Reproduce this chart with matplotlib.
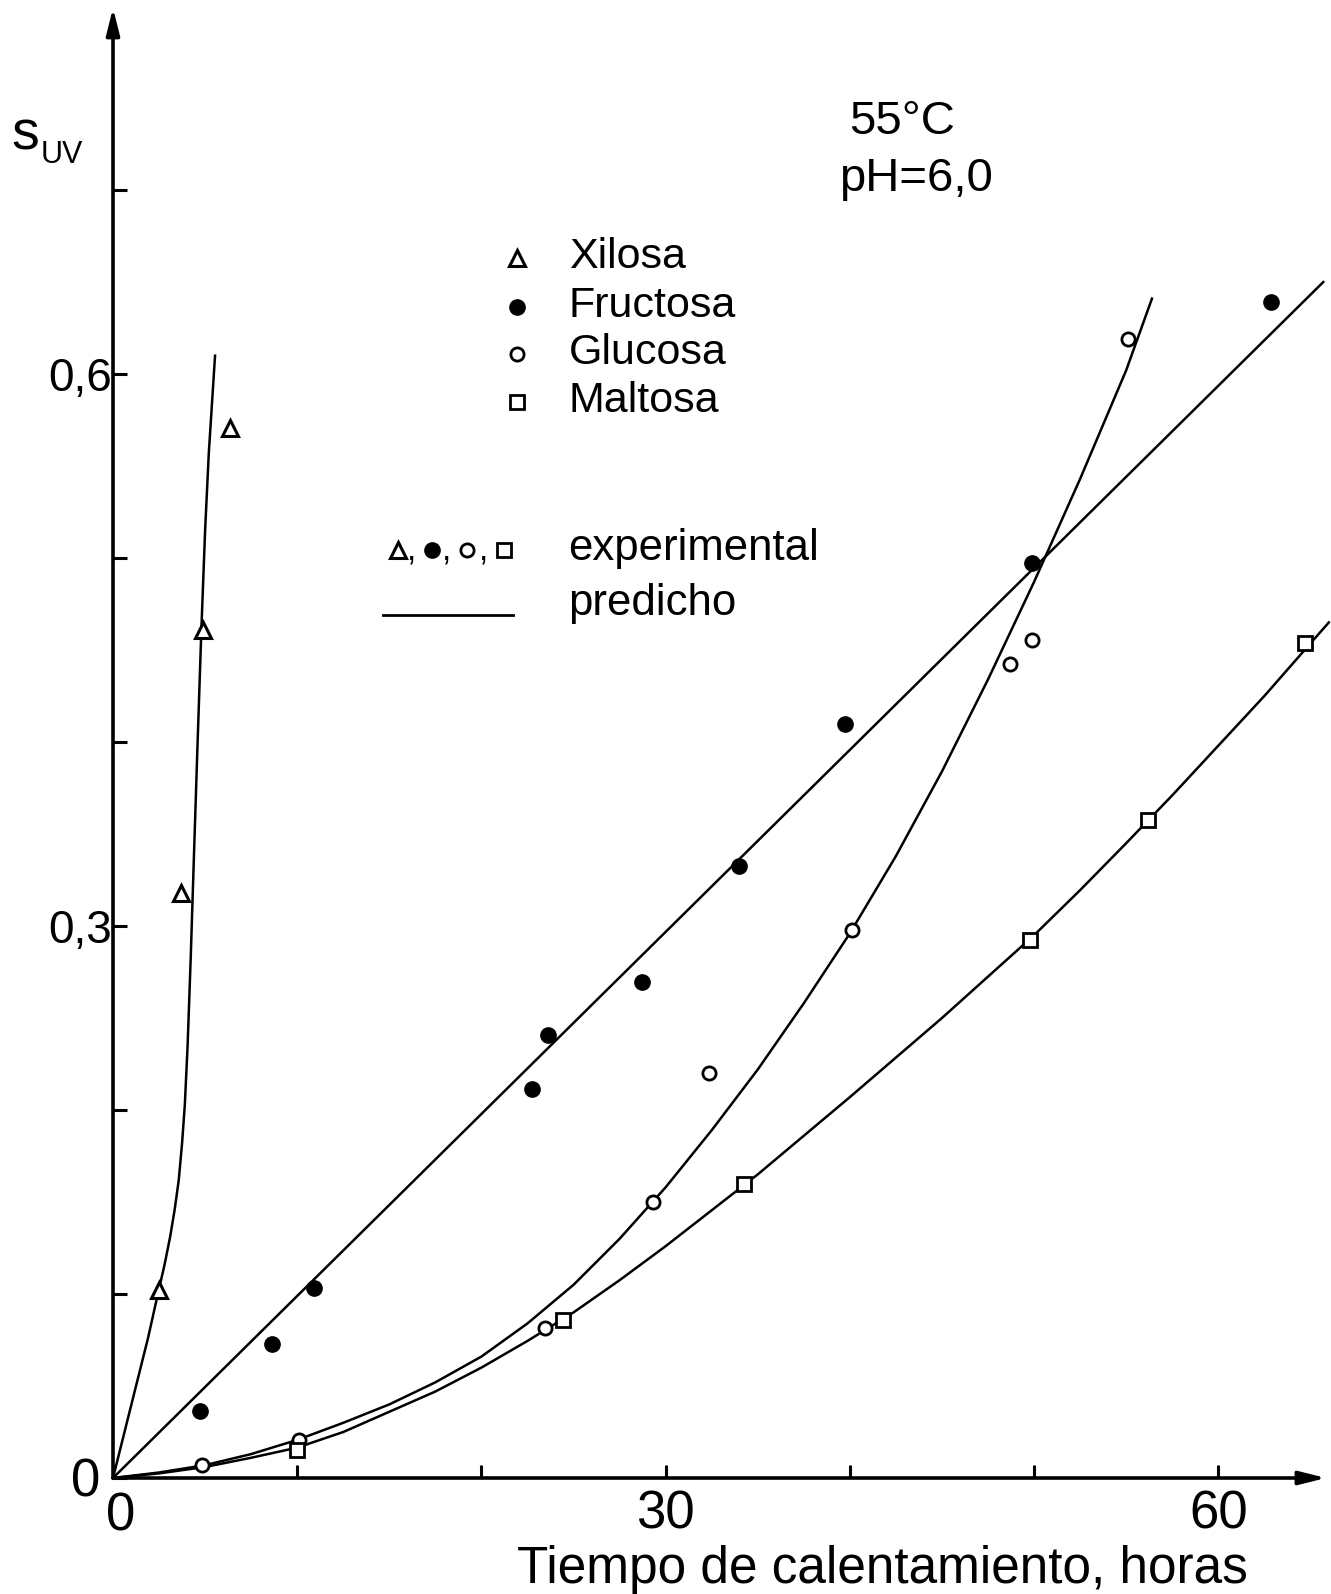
import matplotlib
matplotlib.use("Agg")
import matplotlib.pyplot as plt
from matplotlib.ticker import FixedLocator, FixedFormatter

plt.rcParams['font.family'] = ['Liberation Sans', 'DejaVu Sans']

# experimental points (time in hours, S_UV)
xil_t = [2.48, 3.69, 4.87, 6.35]
xil_s = [0.102, 0.318, 0.461, 0.5705]
fru_t = [4.72, 8.61, 10.93, 22.76, 23.63, 28.7, 34.0, 39.74, 49.87, 62.85]
fru_s = [0.0364, 0.0728, 0.1031, 0.2112, 0.2408, 0.2694, 0.3326, 0.410, 0.4975, 0.639]
glu_t = [4.81, 10.12, 23.47, 29.3, 32.37, 40.14, 48.7, 49.9, 55.12]
glu_s = [0.0071, 0.0207, 0.0814, 0.150, 0.220, 0.2978, 0.4424, 0.4554, 0.619]
mal_t = [9.97, 24.41, 34.27, 49.78, 56.2, 64.71]
mal_s = [0.0152, 0.0859, 0.1596, 0.2924, 0.3576, 0.4536]

# predicted curves
xil_pred_t = [0, 0.6, 1.25, 1.9, 2.48, 2.8, 3.1, 3.35, 3.57, 3.75, 3.9, 4.05, 4.22, 4.4,
              4.58, 4.8, 5.0, 5.2, 5.54]
xil_pred_s = [0, 0.024, 0.050, 0.076, 0.102, 0.116, 0.131, 0.146, 0.162, 0.182, 0.203, 0.235,
              0.283, 0.340, 0.396, 0.462, 0.515, 0.557, 0.610]
fru_pred_t = [0, 65.7]
fru_pred_s = [0, 0.650]
glu_pred_t = [0, 2.5, 5, 7.5, 10, 12.5, 15, 17.5, 20, 22.5, 25, 27.5, 30, 32.5, 35, 37.5,
              40, 42.5, 45, 47.5, 50, 52.5, 55, 56.4]
glu_pred_s = [0, 0.003, 0.007, 0.013, 0.0207, 0.030, 0.040, 0.052, 0.066, 0.084, 0.105, 0.130,
              0.158, 0.189, 0.222, 0.258, 0.296, 0.338, 0.384, 0.434, 0.487, 0.543, 0.602, 0.641]
mal_pred_t = [0, 2.5, 5, 7.5, 10, 12.5, 15, 17.5, 20, 22.5, 25, 27.5, 30, 32.5, 35, 37.5,
              40, 42.5, 45, 47.5, 50, 52.5, 55, 57.5, 60, 62.5, 66]
mal_pred_s = [0, 0.0025, 0.006, 0.011, 0.0165, 0.025, 0.036, 0.047, 0.060, 0.0745, 0.090,
              0.1075, 0.126, 0.1455, 0.165, 0.186, 0.207, 0.2285, 0.250, 0.2725, 0.295, 0.3195,
              0.345, 0.371, 0.398, 0.425, 0.465]

# origin "0" is written separately for each axis
x_major = [0, 30, 60]
x_major_labels = ["", "30", "60"]
x_minor = [10, 20, 40, 50]
y_major = [0, 0.3, 0.6]
y_major_labels = ["", "0,3", "0,6"]
y_minor = [0.1, 0.2, 0.4, 0.5, 0.7]

legend_names = ["Xilosa", "Fructosa", "Glucosa", "Maltosa"]

W, H = 1331, 1594
fig = plt.figure(figsize=(W / 100, H / 100), dpi=100)
fig.patch.set_facecolor("white")
ax = fig.add_axes([113 / W, 116 / H, 1 - 113 / W, 1478 / H])
ax.set_xlim(0, 66.12)
ax.set_ylim(0, 0.8033)
for sp in ax.spines.values():
    sp.set_visible(False)


def fp(x, y):
    # pixel position (from top-left) -> figure fraction
    return x / W, 1 - y / H


# axes with arrow heads
arrow = dict(arrowstyle="-|>,head_length=1.6,head_width=0.4", lw=2.6, color="k",
             shrinkA=0, shrinkB=0, mutation_scale=10)
ax.annotate("", xy=(0, 0.799), xytext=(0, 0), arrowprops=arrow, annotation_clip=False)
ax.annotate("", xy=(65.85, 0), xytext=(0, 0), arrowprops=arrow, annotation_clip=False)

ax.xaxis.set_major_locator(FixedLocator(x_major))
ax.xaxis.set_major_formatter(FixedFormatter(x_major_labels))
ax.xaxis.set_minor_locator(FixedLocator(x_minor))
ax.yaxis.set_major_locator(FixedLocator(y_major))
ax.yaxis.set_major_formatter(FixedFormatter(y_major_labels))
ax.yaxis.set_minor_locator(FixedLocator(y_minor))
ax.tick_params(axis="x", which="both", direction="in", length=9.5, width=2.2, pad=8, labelsize=38)
ax.tick_params(axis="y", which="both", direction="in", length=10, width=2.2, pad=0.5, labelsize=33)

# zeros at the origin
ax.annotate("0", xy=(0, 0), xytext=(-9.5, -13.5), textcoords="offset points",
            ha="right", va="baseline", fontsize=38, annotation_clip=False)
ax.annotate("0", xy=(0, 0), xytext=(5.5, -37.5), textcoords="offset points",
            ha="center", va="baseline", fontsize=38, annotation_clip=False)

# predicted curves
lw = 1.8
ax.plot(xil_pred_t, xil_pred_s, color="k", lw=lw, clip_on=False)
ax.plot(fru_pred_t, fru_pred_s, color="k", lw=lw, clip_on=False)
ax.plot(glu_pred_t, glu_pred_s, color="k", lw=lw, clip_on=False)
ax.plot(mal_pred_t, mal_pred_s, color="k", lw=lw, clip_on=False)

# experimental points
ax.plot(xil_t, xil_s, ls="none", marker="^", ms=12, mfc="white", mec="k", mew=2.2, zorder=5)
ax.plot(fru_t, fru_s, ls="none", marker="o", ms=11, mfc="k", mec="k", zorder=5)
ax.plot(glu_t, glu_s, ls="none", marker="o", ms=9.5, mfc="white", mec="k", mew=2.0, zorder=5)
ax.plot(mal_t, mal_s, ls="none", marker="s", ms=9.5, mfc="white", mec="k", mew=2.0, zorder=5,
        clip_on=False)

# axis titles
fig.text(*fp(11, 150), "s", fontsize=40, ha="left", va="baseline")
fig.text(*fp(41, 163), "UV", fontsize=22, ha="left", va="baseline")
fig.text(*fp(882, 1583), "Tiempo de calentamiento, horas", fontsize=37, ha="center", va="baseline")

# conditions
fig.text(*fp(902, 134), "55°C", fontsize=34, ha="center", va="baseline")
fig.text(*fp(916, 191), "pH=6,0", fontsize=34, ha="center", va="baseline")

# legend
styles = [
    dict(marker="^", ms=12, mfc="white", mec="k", mew=2.2),
    dict(marker="o", ms=11, mfc="k", mec="k"),
    dict(marker="o", ms=9.5, mfc="white", mec="k", mew=2.0),
    dict(marker="s", ms=9.5, mfc="white", mec="k", mew=2.0),
]
name_base = [268, 317, 364, 412]
for name, st, yb in zip(legend_names, styles, name_base):
    mx, my = fp(517, yb - 10)
    ax.plot([mx], [my], ls="none", transform=fig.transFigure, clip_on=False, **st)
    fig.text(*fp(569, yb), name, fontsize=31, ha="left", va="baseline")

for xm, st in zip([398, 432, 467, 504], styles):
    mx, my = fp(xm, 550)
    ax.plot([mx], [my], ls="none", transform=fig.transFigure, clip_on=False, **st)
for xc in [412, 447, 484]:
    fig.text(*fp(xc, 560), ",", fontsize=24, ha="center", va="baseline")
fig.text(*fp(568, 560), "experimental", fontsize=31.5, ha="left", va="baseline")

lx0, ly = fp(383, 615)
lx1, _ = fp(513, 615)
ax.plot([lx0, lx1], [ly, ly], color="k", lw=2.0, transform=fig.transFigure, clip_on=False)
fig.text(*fp(568, 615), "predicho", fontsize=31.5, ha="left", va="baseline")

fig.savefig("out.png", dpi=100, facecolor="white")
